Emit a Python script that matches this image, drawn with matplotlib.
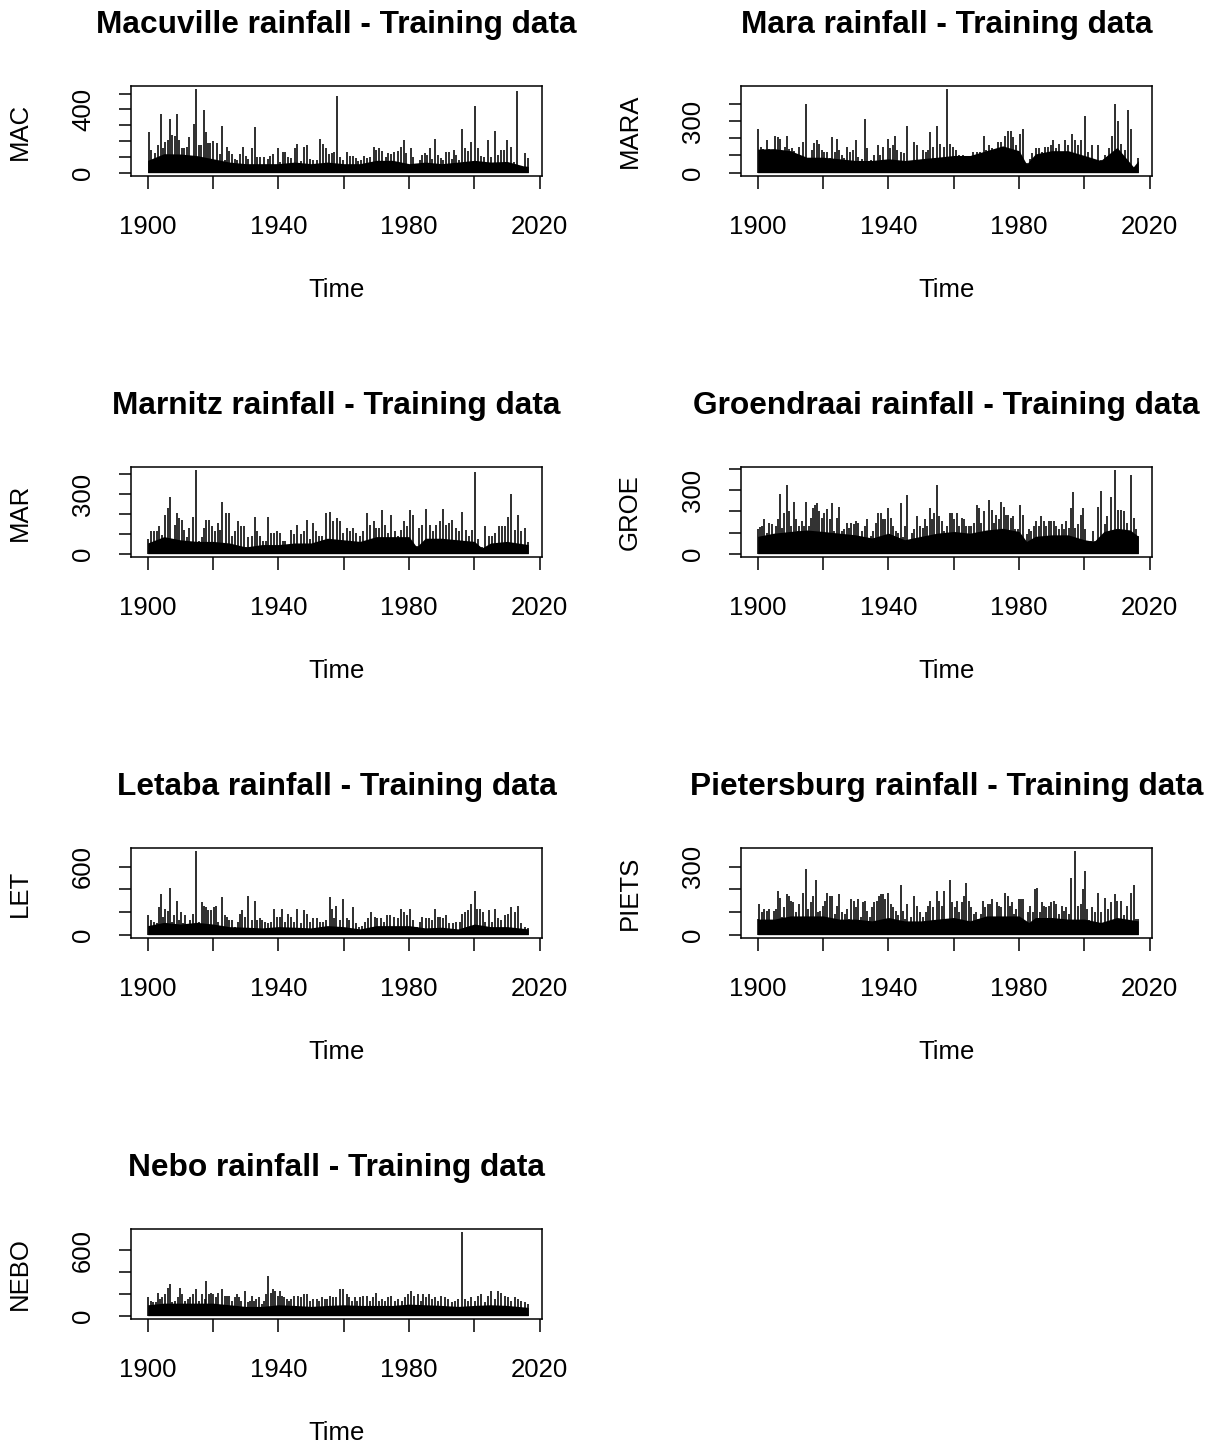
import numpy as np
import matplotlib.pyplot as plt

plt.rcParams['font.family'] = ['Liberation Sans', 'DejaVu Sans']

# ---- data: spike tops (year, mm) and the dense band level ----
mac_t = [1900.4, 1901.0, 1902.2, 1903.3, 1904.0, 1904.8, 1905.3, 1906.1, 1906.9, 1907.5, 1908.4, 1908.9, 1909.7,
         1910.4, 1911.1, 1911.9, 1912.8, 1913.8, 1914.3, 1914.8, 1915.7, 1916.4, 1917.1, 1917.8, 1918.6, 1919.2,
         1919.9, 1921.2, 1922.0, 1922.8, 1923.6, 1924.3, 1925.0, 1925.7, 1926.7, 1927.3, 1928.2, 1929.3, 1930.1,
         1930.8, 1931.9, 1932.8, 1933.6, 1934.4, 1935.7, 1936.7, 1937.5, 1938.4, 1939.8, 1940.5, 1941.3, 1942.0,
         1943.0, 1943.8, 1945.0, 1945.8, 1946.8, 1947.9, 1948.7, 1949.6, 1950.7, 1951.7, 1952.8, 1953.7, 1954.6,
         1955.5, 1956.3, 1957.0, 1958.0, 1958.8, 1959.7, 1960.9, 1961.9, 1962.7, 1963.7, 1964.4, 1965.4, 1966.3,
         1967.2, 1968.2, 1969.3, 1970.0, 1970.8, 1971.8, 1972.8, 1973.6, 1974.6, 1975.4, 1976.5, 1977.4, 1978.4,
         1979.2, 1980.5, 1981.2, 1982.3, 1983.3, 1984.1, 1984.8, 1985.6, 1986.3, 1987.1, 1987.9, 1988.9, 1989.7,
         1990.4, 1991.4, 1992.1, 1993.0, 1993.8, 1994.5, 1995.2, 1996.2, 1997.0, 1998.1, 1999.1, 2000.1, 2001.1,
         2002.1, 2003.0, 2004.2, 2005.2, 2006.2, 2007.2, 2008.3, 2009.1, 2010.1, 2011.1, 2012.1, 2013.1, 2014.4,
         2015.4, 2016.4]
mac_v = [257, 143, 124, 173, 373, 153, 194, 204, 337, 241, 235, 373, 204,
         159, 153, 165, 224, 86, 306, 527, 173, 173, 394, 255, 190, 190,
         200, 190, 118, 292, 78, 163, 139, 118, 88, 82, 116, 163, 108,
         88, 153, 286, 102, 98, 98, 88, 104, 118, 153, 67, 133, 133,
         102, 92, 153, 184, 71, 163, 173, 88, 82, 78, 214, 184, 159,
         118, 122, 133, 486, 102, 78, 133, 104, 104, 92, 71, 82, 104,
         92, 102, 163, 143, 153, 139, 98, 122, 118, 133, 139, 163, 204,
         122, 153, 102, 31, 78, 112, 122, 112, 153, 88, 214, 112, 92,
         82, 129, 129, 88, 143, 112, 82, 276, 153, 139, 194, 424, 153,
         104, 102, 204, 102, 265, 112, 143, 143, 204, 163, 67, 516, 37,
         122, 92]
mac_bt = [1900, 1905, 1910, 1915, 1920, 1925, 1930, 1935, 1940, 1945, 1950, 1955, 1960, 1965, 1970, 1975,
          1980, 1985, 1990, 1995, 2000, 2005, 2010, 2015, 2016.5]
mac_bv = [78, 120, 118, 108, 88, 67, 57, 57, 57, 67, 57, 67, 57, 57, 78, 78,
          57, 67, 57, 67, 78, 67, 71, 43, 40]

mara_t = [1900.2, 1901.0, 1901.7, 1902.8, 1903.6, 1904.3, 1905.3, 1906.1, 1906.9, 1907.5, 1908.4, 1908.9, 1909.7,
          1910.4, 1911.1, 1911.9, 1912.8, 1913.8, 1914.8, 1915.7, 1916.5, 1917.3, 1918.1, 1918.9, 1919.6, 1920.4,
          1921.2, 1922.0, 1922.8, 1923.6, 1924.3, 1925.0, 1925.7, 1926.5, 1927.3, 1928.2, 1929.1, 1930.0, 1930.8,
          1931.8, 1932.8, 1933.6, 1934.7, 1935.7, 1936.7, 1937.5, 1938.5, 1939.8, 1940.5, 1941.3, 1942.0, 1942.8,
          1944.0, 1944.9, 1945.8, 1946.8, 1947.9, 1948.7, 1949.6, 1950.5, 1951.4, 1952.2, 1952.8, 1953.7, 1954.8,
          1955.7, 1956.9, 1958.0, 1958.8, 1959.8, 1960.7, 1961.7, 1962.9, 1963.9, 1964.9, 1966.0, 1967.0, 1968.0,
          1969.3, 1970.0, 1970.8, 1971.8, 1972.6, 1973.6, 1974.6, 1975.6, 1976.5, 1977.4, 1978.3, 1979.2, 1980.2,
          1981.2, 1982.3, 1983.3, 1984.1, 1985.1, 1986.0, 1986.9, 1987.9, 1988.9, 1989.7, 1990.4, 1991.4, 1992.3,
          1993.0, 1994.0, 1995.0, 1996.2, 1997.0, 1998.1, 1999.1, 2000.3, 2001.1, 2002.3, 2003.2, 2004.2, 2005.2,
          2006.4, 2007.4, 2008.5, 2009.3, 2010.3, 2011.3, 2012.3, 2013.4, 2014.4, 2015.4, 2016.4]
mara_v = [254, 147, 137, 188, 137, 100, 216, 207, 194, 113, 150, 212, 137,
          141, 128, 81, 150, 179, 400, 75, 132, 175, 188, 169, 132, 122,
          122, 85, 207, 122, 197, 132, 103, 85, 150, 122, 132, 188, 94,
          81, 310, 141, 75, 103, 160, 103, 147, 197, 141, 160, 216, 132,
          122, 113, 273, 66, 179, 160, 75, 132, 118, 132, 235, 150, 273,
          169, 150, 485, 169, 150, 132, 103, 103, 85, 94, 122, 122, 122,
          216, 132, 160, 141, 132, 179, 179, 216, 244, 244, 207, 160, 226,
          254, 56, 81, 113, 141, 141, 122, 150, 147, 160, 188, 141, 169,
          122, 188, 160, 226, 188, 160, 188, 329, 122, 160, 75, 160, 75,
          103, 141, 216, 400, 301, 169, 132, 363, 254, 34, 85]
mara_bt = [1900, 1905, 1910, 1915, 1920, 1925, 1930, 1935, 1940, 1945, 1950, 1955, 1960, 1965, 1970, 1975,
           1980, 1982.3, 1985, 1990, 1995, 2000, 2005, 2010, 2015, 2016.5]
mara_bv = [137, 140, 128, 90, 90, 81, 71, 71, 81, 71, 81, 90, 100, 100, 128, 156,
           128, 50, 109, 128, 128, 100, 71, 147, 34, 70]

mar_t = [1900.0, 1901.0, 1902.0, 1902.9, 1903.6, 1904.3, 1905.3, 1906.1, 1906.9, 1907.5, 1908.4, 1908.9, 1909.7,
         1910.4, 1911.1, 1911.9, 1912.8, 1914.0, 1914.8, 1915.7, 1916.5, 1917.3, 1918.0, 1918.9, 1919.8, 1920.6,
         1921.4, 1922.2, 1922.8, 1923.9, 1924.8, 1925.7, 1926.7, 1927.5, 1928.5, 1929.4, 1930.1, 1930.8, 1931.8,
         1932.8, 1933.6, 1934.5, 1935.4, 1936.1, 1936.9, 1937.9, 1938.7, 1939.6, 1940.5, 1941.3, 1942.0, 1943.0,
         1943.8, 1944.9, 1945.8, 1946.8, 1947.8, 1948.8, 1949.8, 1950.7, 1951.5, 1952.5, 1953.5, 1954.7, 1955.8,
         1956.8, 1957.9, 1958.8, 1959.8, 1960.9, 1961.8, 1962.9, 1963.9, 1964.9, 1966.0, 1967.0, 1968.0, 1969.2,
         1970.0, 1970.8, 1971.8, 1972.6, 1973.6, 1974.6, 1975.6, 1976.7, 1977.5, 1978.5, 1979.4, 1980.4, 1981.3,
         1982.3, 1983.1, 1984.1, 1985.3, 1986.3, 1987.4, 1988.4, 1989.4, 1990.4, 1991.2, 1992.3, 1993.3, 1994.3,
         1995.3, 1996.3, 1997.3, 1998.4, 1999.3, 2000.1, 2001.1, 2002.3, 2003.4, 2004.4, 2005.4, 2006.4, 2007.4,
         2008.5, 2009.5, 2010.3, 2011.3, 2012.3, 2013.4, 2014.4, 2015.4, 2016.4]
mar_v = [75, 116, 116, 116, 139, 95, 196, 233, 285, 75, 147, 204, 179,
         171, 122, 82, 130, 187, 421, 65, 82, 130, 171, 171, 139, 114,
         155, 122, 261, 204, 204, 90, 114, 163, 139, 139, 34, 82, 90,
         187, 114, 90, 65, 65, 187, 106, 106, 114, 106, 65, 65, 41,
         122, 98, 147, 98, 114, 171, 73, 155, 114, 90, 90, 204, 212,
         163, 179, 163, 106, 130, 114, 130, 106, 90, 114, 204, 147, 163,
         130, 130, 220, 147, 106, 196, 114, 90, 122, 163, 139, 220, 196,
         41, 130, 147, 228, 147, 114, 147, 163, 228, 147, 155, 171, 130,
         114, 212, 122, 90, 122, 412, 73, 33, 139, 90, 90, 106, 139,
         139, 139, 187, 302, 122, 196, 114, 130, 57]
mar_bt = [1900, 1905, 1910, 1915, 1920, 1925, 1930, 1935, 1940, 1945, 1950, 1955, 1960, 1965, 1970, 1975,
          1980, 1982.3, 1985, 1990, 1995, 2000, 2002.3, 2005, 2010, 2016.5]
mar_bv = [54, 86, 70, 62, 62, 54, 34, 46, 46, 54, 54, 78, 70, 62, 86, 86,
          86, 34, 78, 78, 70, 62, 29, 54, 62, 46]

groe_t = [1900.0, 1900.7, 1901.2, 1901.9, 1902.8, 1903.6, 1904.3, 1905.0, 1905.6, 1906.3, 1906.9, 1907.5, 1908.2,
          1908.9, 1909.6, 1910.2, 1911.0, 1911.6, 1912.2, 1912.8, 1913.5, 1914.2, 1914.9, 1915.7, 1916.3, 1916.9,
          1917.5, 1918.1, 1918.9, 1919.6, 1920.4, 1921.2, 1922.0, 1922.7, 1923.4, 1924.2, 1924.9, 1925.7, 1926.4,
          1927.2, 1928.0, 1928.7, 1929.4, 1930.1, 1930.8, 1931.8, 1932.8, 1933.6, 1934.7, 1935.4, 1936.1, 1936.9,
          1937.7, 1938.5, 1939.1, 1940.0, 1940.7, 1941.5, 1942.3, 1943.0, 1943.8, 1944.5, 1945.1, 1945.8, 1946.6,
          1947.3, 1948.0, 1948.8, 1949.6, 1950.5, 1951.2, 1951.9, 1952.7, 1953.4, 1954.0, 1954.8, 1955.5, 1956.3,
          1957.1, 1958.0, 1958.8, 1959.5, 1960.1, 1960.9, 1961.6, 1962.4, 1963.1, 1963.9, 1964.6, 1965.4, 1966.3,
          1967.0, 1967.8, 1968.5, 1969.2, 1970.0, 1970.8, 1971.6, 1972.4, 1973.1, 1973.8, 1974.6, 1975.3, 1975.9,
          1976.7, 1977.5, 1978.2, 1978.9, 1979.7, 1980.4, 1981.2, 1982.3, 1983.1, 1983.8, 1984.5, 1985.3, 1986.0,
          1986.8, 1987.7, 1988.4, 1989.2, 1989.9, 1990.6, 1991.4, 1992.1, 1993.0, 1993.8, 1994.5, 1995.3, 1996.0,
          1996.5, 1997.2, 1998.1, 1998.9, 1999.6, 2000.3, 2001.1, 2001.9, 2002.6, 2003.4, 2004.2, 2005.2, 2006.2,
          2007.0, 2008.1, 2009.3, 2010.3, 2011.3, 2012.1, 2013.2, 2014.2, 2015.2, 2015.9, 2016.4]
groe_v = [115, 128, 131, 162, 100, 146, 139, 62, 131, 162, 282, 123, 192,
          323, 200, 131, 246, 162, 108, 131, 154, 131, 246, 131, 169, 216,
          231, 239, 200, 169, 192, 213, 162, 239, 108, 169, 223, 108, 115,
          146, 123, 146, 139, 154, 146, 108, 131, 162, 85, 108, 146, 192,
          192, 162, 162, 216, 169, 131, 108, 100, 239, 77, 131, 277, 62,
          100, 115, 177, 131, 123, 162, 131, 216, 162, 192, 323, 177, 154,
          108, 131, 192, 192, 162, 192, 131, 169, 162, 131, 131, 131, 146,
          231, 216, 146, 200, 108, 254, 208, 146, 185, 162, 246, 223, 185,
          185, 169, 177, 115, 115, 231, 185, 92, 115, 108, 131, 154, 131,
          177, 154, 131, 154, 154, 154, 131, 115, 139, 115, 154, 123, 216,
          290, 123, 139, 185, 216, 115, 62, 62, 108, 62, 223, 297, 139,
          177, 270, 394, 208, 208, 200, 146, 374, 169, 115, 85]
groe_bt = [1900, 1905, 1910, 1915, 1920, 1925, 1930, 1935, 1940, 1945, 1950, 1955, 1960, 1965, 1970, 1975,
           1980, 1982.3, 1985, 1990, 1995, 2000, 2003, 2006, 2010, 2014, 2016.5]
groe_bv = [82, 97, 105, 112, 105, 97, 89, 74, 97, 66, 82, 97, 105, 97, 112, 120,
           105, 58, 82, 89, 89, 66, 58, 105, 120, 112, 82]

let_t = [1900.2, 1901.0, 1902.0, 1902.9, 1903.6, 1904.1, 1904.8, 1905.4, 1906.1, 1906.9, 1907.5, 1908.2, 1908.9,
         1909.6, 1910.1, 1910.8, 1911.4, 1912.2, 1912.9, 1914.0, 1914.8, 1915.7, 1916.5, 1917.1, 1917.8, 1918.6,
         1919.4, 1920.2, 1921.0, 1921.6, 1922.8, 1923.6, 1924.4, 1925.0, 1925.7, 1926.7, 1927.5, 1928.2, 1929.0,
         1929.8, 1930.8, 1931.8, 1932.8, 1933.6, 1934.5, 1935.1, 1935.9, 1936.7, 1937.9, 1938.8, 1939.6, 1940.5,
         1941.2, 1942.0, 1943.0, 1943.8, 1944.9, 1945.8, 1946.8, 1947.8, 1948.8, 1949.8, 1950.7, 1951.7, 1952.7,
         1953.7, 1954.7, 1955.8, 1956.5, 1957.1, 1957.8, 1958.8, 1959.8, 1960.9, 1961.7, 1962.9, 1963.7, 1964.6,
         1965.6, 1966.5, 1967.5, 1968.5, 1969.5, 1970.3, 1971.4, 1972.4, 1973.4, 1974.3, 1975.3, 1976.5, 1977.5,
         1978.5, 1979.5, 1980.4, 1981.2, 1982.3, 1983.3, 1984.1, 1985.1, 1986.0, 1986.9, 1987.9, 1988.9, 1989.6,
         1990.4, 1991.4, 1992.3, 1993.5, 1994.5, 1995.5, 1996.2, 1997.0, 1998.1, 1999.1, 2000.1, 2000.9, 2001.6,
         2002.6, 2003.4, 2004.4, 2005.4, 2006.4, 2007.2, 2008.3, 2009.3, 2010.3, 2011.3, 2012.3, 2013.4, 2014.4,
         2015.4, 2016.4]
let_v = [171, 129, 109, 100, 243, 357, 157, 229, 209, 409, 114, 174, 300,
         129, 200, 100, 171, 71, 129, 186, 737, 114, 286, 257, 243, 214,
         214, 243, 257, 114, 329, 171, 157, 129, 129, 71, 114, 186, 214,
         157, 343, 129, 300, 129, 143, 129, 114, 100, 114, 229, 157, 157,
         229, 114, 186, 157, 114, 229, 100, 214, 186, 114, 143, 143, 114,
         114, 129, 329, 229, 143, 257, 129, 314, 143, 129, 243, 100, 71,
         80, 114, 143, 200, 157, 143, 143, 114, 171, 171, 157, 143, 229,
         200, 171, 229, 129, 71, 114, 157, 143, 143, 129, 229, 157, 157,
         143, 171, 100, 100, 114, 114, 186, 200, 214, 271, 386, 229, 229,
         200, 114, 214, 114, 229, 143, 129, 171, 186, 243, 200, 257, 100,
         71, 57]
let_bt = [1900, 1905, 1910, 1915, 1920, 1925, 1930, 1935, 1940, 1945, 1950, 1955, 1960, 1965, 1970, 1975,
          1980, 1985, 1990, 1995, 2000, 2005, 2010, 2016.5]
let_bv = [80, 109, 94, 109, 94, 71, 66, 60, 71, 66, 60, 80, 71, 51, 80, 80,
          80, 60, 66, 51, 94, 71, 71, 51]

piets_t = [1900.0, 1900.5, 1901.2, 1901.9, 1902.8, 1903.6, 1904.3, 1905.1, 1905.7, 1906.3, 1906.9, 1907.5, 1908.2,
           1908.9, 1909.6, 1910.2, 1910.9, 1911.6, 1912.2, 1912.8, 1913.8, 1914.7, 1915.5, 1916.3, 1917.0, 1917.8,
           1918.6, 1919.2, 1919.9, 1920.6, 1921.2, 1922.0, 1922.8, 1923.6, 1924.3, 1925.0, 1925.7, 1926.7, 1927.3,
           1928.0, 1928.7, 1929.5, 1930.1, 1930.8, 1931.5, 1932.1, 1932.8, 1933.6, 1934.4, 1935.0, 1935.7, 1936.4,
           1937.1, 1937.7, 1938.5, 1939.1, 1940.0, 1940.7, 1941.5, 1942.2, 1943.0, 1943.8, 1944.5, 1945.1, 1945.8,
           1946.8, 1947.8, 1948.7, 1949.6, 1950.6, 1951.4, 1952.2, 1952.8, 1953.6, 1954.8, 1955.5, 1956.3, 1957.1,
           1958.0, 1958.8, 1959.6, 1960.3, 1960.9, 1961.6, 1962.4, 1963.1, 1963.9, 1964.6, 1965.4, 1966.2, 1966.9,
           1967.5, 1968.3, 1969.1, 1969.7, 1970.5, 1971.2, 1971.8, 1972.6, 1973.2, 1973.9, 1974.6, 1975.6, 1976.5,
           1977.2, 1977.9, 1978.5, 1979.2, 1979.9, 1980.5, 1981.2, 1982.0, 1982.8, 1983.5, 1984.3, 1985.0, 1985.6,
           1986.3, 1987.1, 1987.7, 1988.4, 1989.1, 1989.9, 1990.6, 1991.4, 1992.1, 1993.0, 1993.7, 1994.5, 1995.3,
           1996.0, 1997.2, 1998.1, 1998.9, 1999.6, 2000.1, 2000.8, 2001.4, 2002.3, 2003.2, 2004.2, 2005.2, 2006.2,
           2007.2, 2008.3, 2009.3, 2010.1, 2011.1, 2012.1, 2013.2, 2014.2, 2015.2, 2015.9, 2016.4]
piets_v = [71, 136, 100, 114, 107, 114, 57, 107, 114, 193, 161, 79, 121,
           179, 171, 150, 143, 100, 79, 136, 183, 290, 114, 143, 171, 240,
           100, 107, 129, 150, 186, 171, 171, 93, 129, 179, 100, 93, 114,
           71, 157, 150, 121, 157, 79, 143, 150, 107, 79, 121, 143, 150,
           171, 179, 179, 157, 186, 136, 121, 107, 86, 221, 107, 71, 136,
           79, 171, 129, 100, 79, 100, 129, 150, 121, 193, 150, 129, 193,
           64, 240, 143, 121, 150, 100, 143, 171, 229, 150, 121, 93, 100,
           71, 93, 150, 121, 136, 136, 157, 79, 143, 129, 121, 186, 171,
           129, 143, 93, 114, 157, 157, 157, 57, 100, 129, 100, 200, 207,
           100, 143, 129, 121, 129, 143, 150, 136, 93, 129, 107, 121, 93,
           250, 369, 129, 136, 200, 283, 114, 64, 121, 100, 186, 100, 164,
           114, 143, 179, 150, 150, 86, 129, 186, 221, 71, 71]
piets_bt = [1900, 1905, 1910, 1915, 1920, 1925, 1930, 1935, 1940, 1945, 1950, 1955, 1960, 1965, 1970, 1975,
            1980, 1983, 1985, 1990, 1995, 2000, 2005, 2010, 2016.5]
piets_bv = [69, 69, 83, 83, 83, 69, 69, 61, 76, 61, 61, 69, 76, 61, 83, 83,
            83, 54, 76, 76, 69, 69, 54, 76, 61]

nebo_t = [1900.2, 1901.0, 1901.7, 1902.4, 1903.3, 1903.9, 1904.5, 1905.3, 1906.1, 1906.9, 1907.5, 1908.4, 1909.4,
          1910.0, 1910.6, 1911.4, 1912.2, 1912.9, 1914.0, 1914.8, 1915.7, 1916.7, 1917.5, 1918.0, 1918.8, 1919.4,
          1920.1, 1920.8, 1921.6, 1922.8, 1923.6, 1924.3, 1925.0, 1925.7, 1926.7, 1927.3, 1928.0, 1928.7, 1929.8,
          1930.6, 1931.3, 1931.8, 1932.6, 1933.3, 1934.0, 1934.9, 1935.5, 1936.1, 1936.9, 1937.7, 1938.5, 1939.1,
          1939.8, 1940.5, 1941.0, 1941.8, 1942.6, 1943.3, 1944.0, 1944.9, 1945.9, 1946.8, 1947.8, 1948.8, 1949.6,
          1950.7, 1951.7, 1952.5, 1953.5, 1954.2, 1955.0, 1955.8, 1956.8, 1957.8, 1958.8, 1959.8, 1960.9, 1961.6,
          1962.4, 1963.4, 1964.2, 1964.9, 1966.0, 1967.0, 1968.0, 1969.0, 1970.0, 1970.8, 1971.8, 1972.6, 1973.6,
          1974.6, 1975.6, 1976.7, 1977.7, 1978.7, 1979.7, 1980.7, 1981.5, 1982.6, 1983.6, 1984.3, 1985.3, 1986.0,
          1986.9, 1987.9, 1988.9, 1989.9, 1990.9, 1991.9, 1993.0, 1994.0, 1995.0, 1996.3, 1997.2, 1998.1, 1999.1,
          2000.1, 2001.1, 2002.1, 2003.2, 2004.2, 2005.2, 2006.2, 2007.2, 2008.3, 2009.3, 2010.3, 2011.3, 2012.3,
          2013.4, 2014.4, 2015.4, 2016.4]
nebo_v = [167, 136, 121, 121, 212, 152, 167, 197, 258, 288, 121, 136, 167,
          258, 197, 136, 152, 167, 197, 242, 136, 197, 152, 318, 197, 212,
          197, 167, 212, 242, 182, 182, 182, 136, 167, 197, 167, 136, 227,
          121, 136, 182, 136, 152, 167, 106, 136, 197, 364, 212, 242, 227,
          182, 227, 182, 167, 152, 136, 152, 182, 182, 167, 197, 197, 136,
          152, 152, 136, 167, 152, 152, 182, 167, 167, 242, 242, 197, 167,
          136, 167, 136, 167, 182, 182, 136, 167, 212, 136, 152, 136, 167,
          182, 136, 152, 136, 167, 197, 227, 182, 197, 136, 197, 167, 197,
          152, 167, 136, 182, 167, 152, 121, 136, 152, 765, 152, 136, 167,
          136, 182, 197, 121, 182, 227, 152, 227, 212, 182, 167, 136, 167,
          152, 136, 121, 106]
nebo_bt = [1900, 1905, 1910, 1915, 1920, 1925, 1930, 1935, 1940, 1945, 1950, 1955, 1960, 1965, 1970, 1975,
           1980, 1985, 1990, 1995, 2000, 2005, 2010, 2016.5]
nebo_bv = [100, 115, 115, 115, 115, 100, 85, 85, 100, 94, 85, 94, 100, 94, 94, 94,
           106, 100, 94, 85, 94, 100, 94, 76]

titles = ["Macuville rainfall - Training data", "Mara rainfall - Training data",
          "Marnitz rainfall - Training data", "Groendraai rainfall - Training data",
          "Letaba rainfall - Training data", "Pietersburg rainfall - Training data",
          "Nebo rainfall - Training data"]
ylabs = ["MAC", "MARA", "MAR", "GROE", "LET", "PIETS", "NEBO"]
yticks = [[0, 100, 200, 300, 400, 500], [0, 100, 200, 300, 400], [0, 100, 200, 300, 400],
          [0, 100, 200, 300, 400], [0, 200, 400, 600], [0, 100, 200, 300], [0, 200, 400, 600]]
ylabeled = [[0, 400], [0, 300], [0, 300], [0, 300], [0, 600], [0, 300], [0, 600]]
xticks = [1900, 1920, 1940, 1960, 1980, 2000, 2020]
xlabeled = [1900, 1940, 1980, 2020]

series = [(mac_t, mac_v, mac_bt, mac_bv), (mara_t, mara_v, mara_bt, mara_bv),
          (mar_t, mar_v, mar_bt, mar_bv), (groe_t, groe_v, groe_bt, groe_bv),
          (let_t, let_v, let_bt, let_bv), (piets_t, piets_v, piets_bt, piets_bv),
          (nebo_t, nebo_v, nebo_bt, nebo_bv)]

W, H = 1222, 1444
fig = plt.figure(figsize=(W / 100, H / 100), dpi=100)

for i in range(7):
    row, col = i // 2, i % 2
    left = 131 + 610 * col
    top = 86 + 381 * row
    ax = fig.add_axes([left / W, 1 - (top + 90) / H, 411 / W, 90 / H])
    t, v, bt, bv = series[i]

    ax.fill_between(bt, 0, bv, color="black", lw=0)
    ax.vlines(t, 0, v, color="black", lw=1.15)

    m = max(v)
    ax.set_ylim(-0.04 * m, 1.04 * m)
    ax.set_xlim(1894.9, 2020.7)

    ax.set_xticks(xticks)
    ax.set_xticklabels([str(x) if x in xlabeled else "" for x in xticks])
    ax.set_yticks(yticks[i])
    ax.set_yticklabels([str(y) if y in ylabeled[i] else "" for y in yticks[i]],
                       rotation=90, va="center")
    ax.tick_params(length=9, width=1.1, labelsize=18.5, pad=17)
    ax.tick_params(axis="x", pad=19)
    for s in ax.spines.values():
        s.set_linewidth(1.1)

    ax.set_title(titles[i], fontsize=22.8, fontweight="bold", pad=38)
    ax.set_xlabel("Time", fontsize=18.5, labelpad=28)
    ax.set_ylabel(ylabs[i], fontsize=18.5, labelpad=28)

fig.savefig("out.png", dpi=100)
